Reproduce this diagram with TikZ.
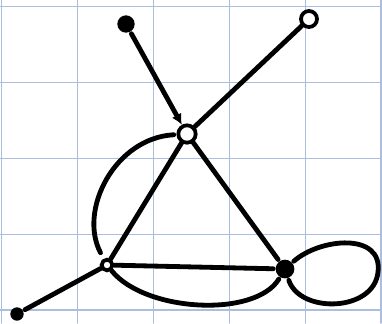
\documentclass[tikz,border=0pt]{standalone}
\usetikzlibrary{arrows.meta}
\definecolor{cgrid}{RGB}{170,190,226}
\tikzset{
  every picture/.style={line width=1.8pt, line cap=round},
  ring/.style={circle, draw, line width=1.4pt, fill=white, inner sep=0pt, minimum size=#1},
  ring/.default=4pt,
  blob/.style={circle, fill, inner sep=0pt, minimum size=#1},
  blob/.default=4pt,
  gridline/.style={cgrid, line width=0.7pt},
}

\begin{document}
\begin{tikzpicture}[x=0.013158cm, y=-0.013158cm]
  \fill[white] (0,0) rectangle (382,323);
  \useasboundingbox (0,0) rectangle (382,323);
  % squared paper
  \foreach \gx in {1.5,77.5,153.5,229.5,305.5,381} {\draw[gridline] (\gx,0) -- (\gx,323);}
  \foreach \gy in {6.5,82.5,158.5,234.5,310} {\draw[gridline] (0,\gy) -- (382,\gy);}
  % vertices
  \node[blob=6.5pt] (A) at (126,24) {};
  \node[ring=6pt] (B) at (309,19) {};
  \node[ring=6.5pt] (C) at (187,134) {};
  \node[ring=4pt] (D) at (107,265) {};
  \node[blob=7pt] (E) at (285,269) {};
  \node[blob=5pt] (F) at (17,314) {};
  % edges
  \draw[-{Latex[length=4pt, width=4pt]}] (A) -- (C);
  \draw (B) -- (C);
  \draw (C) -- (D);
  \draw (C) -- (E);
  \draw (D) -- (E);
  \draw (F) -- (D);
  \draw[shorten <=1pt, shorten >=2.5pt] (C) .. controls (115,138) and (78,210) .. (D);
  \draw (D) .. controls (145,312) and (255,318) .. (E);
  \draw (E) .. controls (320,238) and (383,232) .. (378,272) .. controls (374,312) and (300,314) .. (E);
\end{tikzpicture}
\end{document}
